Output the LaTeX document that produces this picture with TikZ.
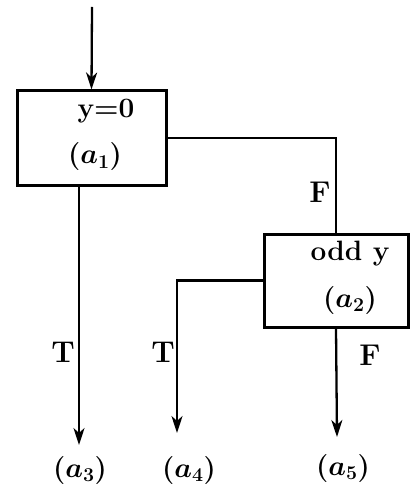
\documentclass[tikz,border=0pt]{standalone}
\usepackage{fix-cm}
\usetikzlibrary{arrows.meta}

\tikzset{
  blk/.style={draw, line width=3pt, inner sep=0pt},
  wire/.style={line width=2.3pt},
  txt/.style={font=\fontsize{28}{32}\selectfont\bfseries\boldmath},
  lbl/.style={font=\fontsize{30}{34}\selectfont\bfseries},
}

\begin{document}
\begin{tikzpicture}[x=1pt, y=-1pt, >={Stealth[length=17pt,width=11pt,inset=5pt]}]
  \useasboundingbox (0,0) rectangle (409,494);

  % the two test boxes
  \node[blk, minimum width=149pt, minimum height=94pt] (a1) at (91.5,138) {};
  \node[blk, minimum width=144pt, minimum height=93pt] (a2) at (336,280.5) {};
  \node[txt] (c1) at (106,111) {y=0};
  \node[txt] (n1) at (95,157) {$(a_1)$};
  \node[txt] (c2) at (350,254) {odd y};
  \node[txt] (n2) at (350,300) {$(a_2)$};

  % where the branches end
  \node[txt] (a3) at (80,470) {$(a_3)$};
  \node[txt] (a4) at (189,470) {$(a_4)$};
  \node[txt] (a5) at (343,468) {$(a_5)$};
  \coordinate (in) at (92,7);
  \coordinate (e3) at (79,445);
  \coordinate (e4) at (177,433);
  \coordinate (e5) at (337,437);

  \draw[wire, ->] (in) -- (a1.north);
  \draw[wire] (a1.east) -| (a2.north);
  \draw[wire, ->] (a1.south -| e3) -- (e3);
  \draw[wire, ->] (a2.west) -| (e4);
  \draw[wire, ->] (a2.south) -- (e5);

  % branch labels
  \node[lbl] (f1) at (320,192) {F};
  \node[lbl] (t1) at (63,352) {T};
  \node[lbl] (t2) at (163,352) {T};
  \node[lbl] (f2) at (370,355) {F};
\end{tikzpicture}
\end{document}
